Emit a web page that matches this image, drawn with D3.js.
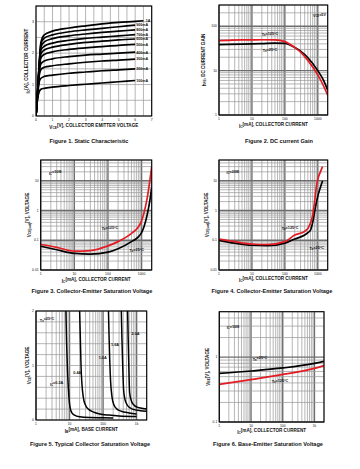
<!DOCTYPE html>
<html><head><meta charset="utf-8">
<script src="https://cdn.jsdelivr.net/npm/d3@7/dist/d3.min.js"></script>
<style>
body{margin:0;background:#fff}
svg{display:block}
text{font-family:"Liberation Sans",Arial,Helvetica,sans-serif;fill:#111}
</style>
</head><body>
<svg id="c" width="360" height="469"></svg>
<script>
// ---------- Figure 1 : static characteristic ----------
const vce = [0, 0.1, 0.2, 0.3, 0.5, 1, 2, 3, 4, 5, 6, 6.5];
const ibLabels = ["1A", "900mA", "800mA", "700mA", "600mA", "500mA", "400mA", "300mA", "200mA", "100mA"];
const icCurves = [
  [0, 0.8, 1.7, 2.35, 2.58, 2.7, 2.8, 2.87, 2.93, 2.98, 3.01, 3.03],
  [0, 0.8, 1.7, 2.3, 2.48, 2.58, 2.68, 2.74, 2.79, 2.84, 2.89],
  [0, 0.8, 1.65, 2.2, 2.36, 2.46, 2.55, 2.61, 2.66, 2.7, 2.74],
  [0, 0.78, 1.6, 2.1, 2.22, 2.32, 2.41, 2.47, 2.51, 2.55, 2.59],
  [0, 0.76, 1.55, 1.98, 2.1, 2.19, 2.28, 2.34, 2.38, 2.42, 2.45],
  [0, 0.74, 1.5, 1.85, 1.96, 2.04, 2.12, 2.17, 2.21, 2.25, 2.28],
  [0, 0.72, 1.4, 1.66, 1.75, 1.82, 1.89, 1.94, 1.97, 2.0, 2.03],
  [0, 0.7, 1.3, 1.48, 1.55, 1.6, 1.66, 1.71, 1.75, 1.78, 1.81],
  [0, 0.65, 1.1, 1.2, 1.26, 1.3, 1.36, 1.4, 1.44, 1.47, 1.5],
  [0, 0.55, 0.78, 0.85, 0.88, 0.92, 0.97, 1.01, 1.05, 1.09, 1.13]
];
const fig1XTicks = [0, 1, 2, 3, 4, 5, 6, 7];
const fig1YTicks = [0, 1, 2, 3];

// ---------- Figure 2 : DC current gain ----------
const hfeIc = [1, 2, 5, 10, 20, 50, 100, 200, 300, 500, 1000, 1500, 2000];
const hfe125 = [47, 48, 49, 49, 49.5, 49, 45, 33, 26, 17, 8, 4.5, 2.8];
const hfe25 = [38.5, 39, 39.5, 40, 40.5, 41.5, 41, 33, 27.5, 19.5, 10, 6, 3.6];
const fig2XTicks = [1, 10, 100, 1000];
const fig2XTickLabels = ["1", "10", "100", "1000"];
const fig2YTicks = [1, 10, 100];

// ---------- Figure 3 : VCE(sat), IC = 10 IB ----------
const sat3Ic = [1, 3, 10, 30, 100, 200, 500, 800, 1000, 1200, 1500, 1800, 2000];
const sat3V125 = [0.072, 0.058, 0.043, 0.045, 0.065, 0.09, 0.17, 0.28, 0.45, 0.9, 3, 12, 30];
const sat3V25 = [0.063, 0.048, 0.036, 0.034, 0.04, 0.052, 0.09, 0.13, 0.18, 0.3, 0.8, 2.5, 6];
const satYTicks = [0.01, 0.1, 1, 10];
const satYTickLabels = ["0.01", "0.1", "1", "10"];

// ---------- Figure 4 : VCE(sat), IC = 20 IB ----------
const sat4Ic = [1, 3, 10, 30, 100, 200, 400, 500, 600, 700, 800, 900, 1000, 1200, 1400];
const sat4V125 = [0.11, 0.09, 0.075, 0.072, 0.09, 0.15, 0.2, 0.25, 0.38, 0.7, 2.0, 6, 11, 20, 30];
const sat4V25 = [0.1, 0.08, 0.068, 0.066, 0.08, 0.11, 0.15, 0.18, 0.22, 0.4, 0.9, 1.8, 3, 6, 10];

// ---------- Figure 5 : typical collector saturation voltage ----------
const fig5Labels = ["=0.2A", "0.4A", "1.0A", "1.6A", "2.0A"];
const fig5Ib = [
  [7.8, 8.2, 8.7, 9.2, 10, 11.5, 14, 20, 40, 100, 200],
  [20, 21, 22, 23.5, 26, 30, 38, 50, 80, 150, 300, 1000],
  [145, 150, 158, 168, 185, 210, 260, 350, 600, 1000],
  [350, 365, 385, 410, 450, 520, 650, 850, 1300, 2000],
  [540, 560, 585, 620, 700, 820, 1000, 1300, 2000]
];
const fig5V = [
  [2.0, 1.4, 0.9, 0.6, 0.3, 0.14, 0.09, 0.06, 0.045, 0.04, 0.035],
  [2.0, 1.5, 1.0, 0.65, 0.4, 0.27, 0.19, 0.15, 0.11, 0.09, 0.075, 0.065],
  [2.0, 1.6, 1.1, 0.7, 0.42, 0.28, 0.2, 0.16, 0.13, 0.11],
  [2.0, 1.5, 1.0, 0.55, 0.38, 0.28, 0.22, 0.19, 0.17, 0.16],
  [2.0, 1.5, 1.0, 0.5, 0.35, 0.28, 0.24, 0.22, 0.2]
];
const kTickLabels = ["1", "10", "100", "1k"];
const fig5YTicks = [0, 1, 2];

// ---------- Figure 6 : base-emitter saturation voltage ----------
const beIc = [1, 10, 100, 1000, 2000];
const be25 = [0.56, 0.61, 0.68, 0.8, 0.86];
const be125 = [0.38, 0.45, 0.54, 0.67, 0.74];
const fig6YTicks = [0.1, 1];
const fig6YTickLabels = ["0.1", "1"];

// ================= drawing =================
const svg = d3.select("#c");
const RED = "#e31b23";
const TICK_FS = 3.4, AX_FS = 4.6, TITLE_FS = 5.6, ANN_FS = 3.8;
let clipId = 0;

function rich(text, parts, fs) {
  parts.forEach((p, i) => {
    const t = text.append("tspan").text(p[0]);
    if (p[1] === "sub") {
      t.attr("font-size", fs * 0.7).attr("dy", fs * 0.3);
      parts[i + 1] && (parts[i + 1].shift = -fs * 0.3);
    }
    if (p.shift) t.attr("dy", p.shift);
  });
}

function logGrid(dom) {
  const out = [];
  for (let d = Math.floor(Math.log10(dom[0])); d <= Math.ceil(Math.log10(dom[1])); d++) {
    for (let k = 1; k <= 9; k++) {
      const v = k * Math.pow(10, d);
      if (v >= dom[0] * 0.9999 && v <= dom[1] * 1.0001) out.push({v, major: k === 1});
    }
  }
  return out;
}

function panel(p) {
  const g = svg.append("g");
  const x = (p.xLog ? d3.scaleLog() : d3.scaleLinear()).domain(p.xDom).range([p.L, p.R]);
  const y = (p.yLog ? d3.scaleLog() : d3.scaleLinear()).domain(p.yDom).range([p.B, p.T]);
  const xg = p.xLog ? logGrid(p.xDom) : d3.range(p.xDom[0], p.xDom[1] + 1e-9, p.xStep).map(v => ({v, major: false}));
  const yg = p.yLog ? logGrid(p.yDom) : d3.range(p.yDom[0], p.yDom[1] + 1e-9, p.yStep).map(v => ({v, major: false}));
  const gridCol = d => d.major ? "#6e6e6e" : "#969696";
  const gridW = d => d.major ? 1.4 : 0.7;
  g.selectAll(null).data(xg).join("line")
    .attr("x1", d => x(d.v)).attr("x2", d => x(d.v)).attr("y1", p.T).attr("y2", p.B)
    .attr("stroke", gridCol).attr("stroke-width", gridW);
  g.selectAll(null).data(yg).join("line")
    .attr("y1", d => y(d.v)).attr("y2", d => y(d.v)).attr("x1", p.L).attr("x2", p.R)
    .attr("stroke", gridCol).attr("stroke-width", gridW);

  const id = "clip" + (clipId++);
  svg.append("clipPath").attr("id", id).append("rect")
    .attr("x", p.L).attr("y", p.T).attr("width", p.R - p.L).attr("height", p.B - p.T);
  const cg = g.append("g").attr("clip-path", `url(#${id})`);
  const line = d3.line().x(d => x(d[0])).y(d => y(d[1])).curve(d3.curveMonotoneX);
  p.series.forEach(s => {
    cg.append("path").attr("d", line(s.xs.map((v, i) => [v, s.ys[i]])))
      .attr("fill", "none").attr("stroke", s.color).attr("stroke-width", s.w || 1.7)
      .attr("stroke-linejoin", "round");
  });

  g.append("rect").attr("x", p.L).attr("y", p.T).attr("width", p.R - p.L).attr("height", p.B - p.T)
    .attr("fill", "none").attr("stroke", "#000").attr("stroke-width", 1.1);

  g.selectAll(null).data(p.xTicks).join("text")
    .attr("x", d => x(d)).attr("y", p.B + 5.2).attr("text-anchor", "middle")
    .attr("font-size", TICK_FS).text((d, i) => p.xTickLabels ? p.xTickLabels[i] : d);
  g.selectAll(null).data(p.yTicks).join("text")
    .attr("x", p.L - 2).attr("y", d => y(d) + 1.2).attr("text-anchor", "end")
    .attr("font-size", TICK_FS).text((d, i) => p.yTickLabels ? p.yTickLabels[i] : d);

  const xl = g.append("text").attr("x", (p.L + p.R) / 2).attr("y", p.xLabelY)
    .attr("text-anchor", "middle").attr("font-size", AX_FS).attr("font-weight", "bold");
  rich(xl, p.xLabel, AX_FS);
  const yl = g.append("text").attr("transform", `translate(${p.yLabelX},${(p.T + p.B) / 2}) rotate(-90)`)
    .attr("text-anchor", "middle").attr("font-size", AX_FS).attr("font-weight", "bold");
  rich(yl, p.yLabel, AX_FS);

  g.append("text").attr("x", p.titleX).attr("y", p.titleY).attr("text-anchor", "middle")
    .attr("font-size", TITLE_FS).attr("font-weight", "bold").text(p.title);

  (p.ann || []).forEach(a => {
    const t = g.append("text").attr("x", x(a.at[0])).attr("y", y(a.at[1]) + ANN_FS * 0.35)
      .attr("text-anchor", a.anchor || "middle").attr("font-size", ANN_FS).attr("font-weight", "bold");
    rich(t, a.parts, ANN_FS);
  });
  return {x, y, g};
}

// ---- Figure 1 ----
const f1 = panel({
  L: 36, R: 151.7, T: 6, B: 116,
  xDom: [0, 7], yDom: [0, 3.5], xStep: 0.5, yStep: 0.5,
  series: icCurves.map(c => ({xs: vce.slice(0, c.length), ys: c, color: "#000", w: 1.7})),
  xTicks: fig1XTicks, yTicks: fig1YTicks,
  xLabel: [["V"], ["CE", "sub"], ["[V], COLLECTOR EMITTER VOLTAGE"]], xLabelY: 128.5,
  yLabel: [["I"], ["C", "sub"], ["[A], COLLECTOR CURRENT"]], yLabelX: 29.5,
  title: "Figure 1. Static Characteristic", titleX: 89, titleY: 143
});
f1.g.selectAll(null).data(icCurves).join("text")
  .attr("x", (c, i) => i === 0 ? 150.3 : f1.x(vce[c.length - 1]) + 1.2)
  .attr("y", c => f1.y(c[c.length - 1]) + 1.3)
  .attr("text-anchor", (c, i) => i === 0 ? "end" : "start")
  .attr("font-size", 3.6).attr("font-weight", "bold")
  .text((c, i) => ibLabels[i]);

// ---- Figure 2 ----
panel({
  L: 219, R: 327.7, T: 5, B: 115,
  xLog: true, yLog: true, xDom: [1, 2000], yDom: [1, 300],
  series: [
    {xs: hfeIc, ys: hfe25, color: "#000"},
    {xs: hfeIc, ys: hfe125, color: RED}
  ],
  xTicks: fig2XTicks, xTickLabels: fig2XTickLabels, yTicks: fig2YTicks,
  xLabel: [["I"], ["C", "sub"], ["[mA], COLLECTOR CURRENT"]], xLabelY: 127.5,
  yLabel: [["h"], ["FE", "sub"], [", DC CURRENT GAIN"]], yLabelX: 206,
  title: "Figure 2. DC current Gain", titleX: 279, titleY: 143,
  ann: [
    {at: [35.5, 65.6], parts: [["T"], ["a", "sub"], ["=125°C"]]},
    {at: [35.5, 28], parts: [["T"], ["a", "sub"], ["=25°C"]]},
    {at: [1780, 170], anchor: "end", parts: [["V"], ["CE", "sub"], ["=5V"]]}
  ]
});

// ---- Figure 3 ----
panel({
  L: 40.7, R: 151.7, T: 160, B: 270,
  xLog: true, yLog: true, xDom: [1, 2000], yDom: [0.01, 50],
  series: [
    {xs: sat3Ic, ys: sat3V25, color: "#000"},
    {xs: sat3Ic, ys: sat3V125, color: RED}
  ],
  xTicks: fig2XTicks, xTickLabels: fig2XTickLabels, yTicks: satYTicks, yTickLabels: satYTickLabels,
  xLabel: [["I"], ["C", "sub"], ["[mA], COLLECTOR CURRENT"]], xLabelY: 282.5,
  yLabel: [["V"], ["CE(sat)", "sub"], ["[V], VOLTAGE"]], yLabelX: 30.5,
  title: "Figure 3. Collector-Emitter Saturation Voltage", titleX: 92, titleY: 293,
  ann: [
    {at: [1.77, 18], anchor: "start", parts: [["I"], ["C", "sub"], ["=10I"], ["B", "sub"], [""]]},
    {at: [115, 0.24], parts: [["T"], ["a", "sub"], ["=125°C"]]},
    {at: [720, 0.044], parts: [["T"], ["a", "sub"], ["=25°C"]]}
  ]
});

// ---- Figure 4 ----
panel({
  L: 219, R: 327.7, T: 160, B: 270,
  xLog: true, yLog: true, xDom: [1, 2000], yDom: [0.01, 50],
  series: [
    {xs: sat4Ic, ys: sat4V25, color: "#000"},
    {xs: sat4Ic, ys: sat4V125, color: RED}
  ],
  xTicks: fig2XTicks, xTickLabels: fig2XTickLabels, yTicks: satYTicks, yTickLabels: satYTickLabels,
  xLabel: [["I"], ["C", "sub"], ["[mA], COLLECTOR CURRENT"]], xLabelY: 281.5,
  yLabel: [["V"], ["CE(sat)", "sub"], ["[V], VOLTAGE"]], yLabelX: 209,
  title: "Figure 4. Collector-Emitter Saturation Voltage", titleX: 272, titleY: 293,
  ann: [
    {at: [1.7, 19], anchor: "start", parts: [["I"], ["C", "sub"], ["=20I"], ["B", "sub"], [""]]},
    {at: [144, 0.24], parts: [["T"], ["a", "sub"], ["=125°C"]]},
    {at: [933, 0.051], parts: [["T"], ["a", "sub"], ["=25°C"]]}
  ]
});

// ---- Figure 5 ----
panel({
  L: 36, R: 146.7, T: 311, B: 420,
  xLog: true, xDom: [1, 2000], yDom: [0, 2], yStep: 0.2,
  series: fig5Ib.map((xs, i) => ({xs, ys: fig5V[i], color: "#000", w: 1.5})),
  xTicks: fig2XTicks, xTickLabels: kTickLabels, yTicks: fig5YTicks,
  xLabel: [["I"], ["B", "sub"], ["[mA], BASE CURRENT"]], xLabelY: 432.5,
  yLabel: [["V"], ["CE", "sub"], ["[V], VOLTAGE"]], yLabelX: 30.5,
  title: "Figure 5. Typical Collector Saturation Voltage", titleX: 90, titleY: 446,
  ann: [
    {at: [1.3, 1.83], anchor: "start", parts: [["T"], ["a", "sub"], ["=25°C"]]},
    {at: [4.15, 0.655], parts: [["I"], ["C", "sub"], [fig5Labels[0]]]},
    {at: [17, 0.87], parts: [[fig5Labels[1]]]},
    {at: [97.5, 1.14], parts: [[fig5Labels[2]]]},
    {at: [227, 1.39], parts: [[fig5Labels[3]]]},
    {at: [926, 1.58], parts: [[fig5Labels[4]]]}
  ]
});

// ---- Figure 6 ----
panel({
  L: 219.3, R: 324, T: 311.7, B: 422,
  xLog: true, yLog: true, xDom: [1, 2000], yDom: [0.1, 5],
  series: [
    {xs: beIc, ys: be25, color: "#000"},
    {xs: beIc, ys: be125, color: RED}
  ],
  xTicks: fig2XTicks, xTickLabels: kTickLabels, yTicks: fig6YTicks, yTickLabels: fig6YTickLabels,
  xLabel: [["I"], ["C", "sub"], ["[mA], COLLECTOR CURRENT"]], xLabelY: 433.5,
  yLabel: [["V"], ["BE", "sub"], ["[V], VOLTAGE"]], yLabelX: 210,
  title: "Figure 6. Base-Emitter Saturation Voltage", titleX: 268, titleY: 446,
  ann: [
    {at: [1.71, 2.83], anchor: "start", parts: [["I"], ["C", "sub"], ["=10I"], ["B", "sub"], [""]]},
    {at: [19.2, 0.925], parts: [["T"], ["a", "sub"], ["=25°C"]]},
    {at: [82, 0.417], parts: [["T"], ["a", "sub"], ["=125°C"]]}
  ]
});
</script>
</body></html>
